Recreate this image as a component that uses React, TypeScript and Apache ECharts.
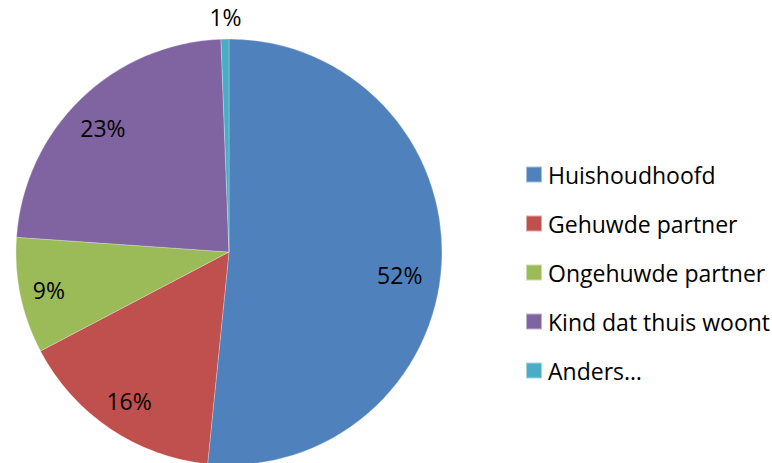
import React, { useEffect, useRef } from "react";
import * as echarts from "echarts";

const categories = ["Huishoudhoofd", "Gehuwde partner", "Ongehuwde partner", "Kind dat thuis woont", "Anders…"];
const values = [51.6, 15.7, 8.8, 23.3, 0.6];
const colors = ["#4F81BD", "#C0504D", "#9BBB59", "#8064A2", "#4BACC6"];

export default function App() {
  const ref = useRef<HTMLDivElement>(null);
  useEffect(() => {
    if (!ref.current) return;
    const chart = echarts.init(ref.current, null, { renderer: "svg" });
    const font = "'Open Sans', 'Noto Sans', sans-serif";
    const data = categories.map((name, i) => ({ name, value: values[i], itemStyle: { color: colors[i] } }));
    const fmt = (p: any) => Math.round(p.percent) + "%";
    const labelOffsets: number[][] = [[-13, 14], [3, -4], [0, 0], [2, 8], [0, -51]];
    chart.setOption({
      animation: false,
      backgroundColor: "#ffffff",
      legend: {
        orient: "vertical",
        left: 525,
        top: 163,
        padding: 0,
        itemWidth: 16,
        itemHeight: 16,
        itemGap: 26,
        icon: "rect",
        textStyle: { fontFamily: font, fontSize: 23, color: "#000", lineHeight: 22, padding: [0, 0, 0, 1] },
        data: categories,
      },
      series: [
        {
          type: "pie",
          center: [229, 252],
          radius: [0, 213],
          startAngle: 90,
          clockwise: true,
          avoidLabelOverlap: false,
          silent: true,
          itemStyle: { borderColor: "rgba(255,255,255,0.5)", borderWidth: 0.5 },
          label: { show: false },
          labelLine: { show: false },
          data,
        },
        {
          type: "pie",
          center: [229, 252],
          radius: [149, 213],
          startAngle: 90,
          clockwise: true,
          silent: true,
          avoidLabelOverlap: false,
          legendHoverLink: false,
          itemStyle: { color: "rgba(0,0,0,0)" },
          label: {
            show: true,
            position: "inside",
            formatter: fmt,
            fontFamily: font,
            fontSize: 23,
            color: "#000",
          },
          labelLine: { show: false },
          data: categories.map((name, i) => ({
            name: name + " ",
            value: values[i],
            label: { offset: labelOffsets[i] },
          })),
        },
      ],
    });
    return () => chart.dispose();
  }, []);
  return <div ref={ref} style={{ position: "fixed", left: 0, top: 0, width: 772, height: 463 }} />;
}
